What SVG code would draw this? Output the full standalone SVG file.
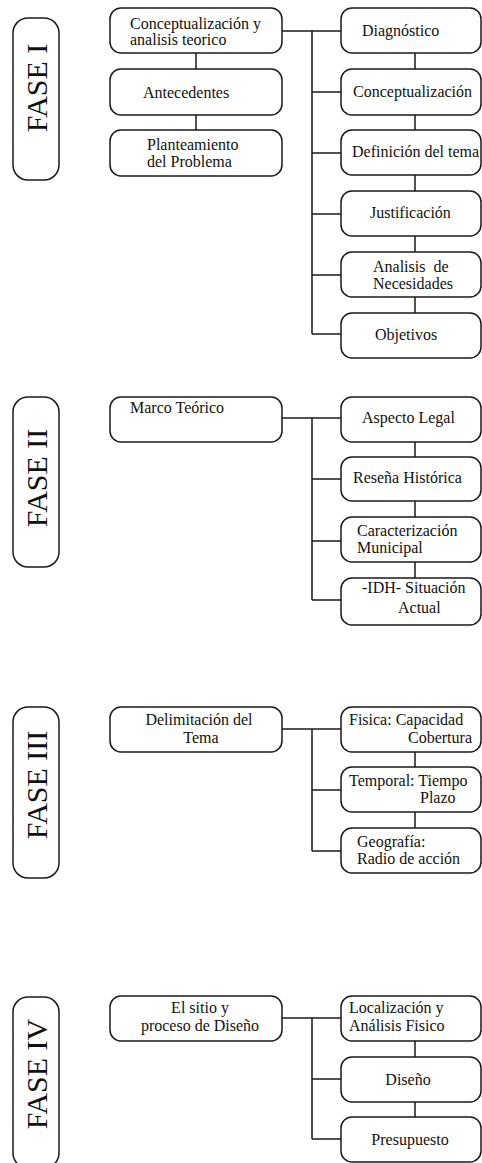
<svg xmlns="http://www.w3.org/2000/svg" width="482" height="1163" viewBox="0 0 482 1163">
<style>
.box{fill:#fff;stroke:#1a1a1a;stroke-width:1.5}
.pill{fill:#fff;stroke:#1a1a1a;stroke-width:1.5}
.ln{fill:none;stroke:#1a1a1a;stroke-width:1.5}
text{font-family:"Liberation Serif","Times New Roman",serif;fill:#111}
.t{font-size:16px}
.ph{font-size:30px;text-anchor:middle}
.c{text-anchor:middle}
</style>
<rect width="482" height="1163" fill="#fff"/>
<g id="connectors">
<path class="ln" d="M196 53V69M196 115V130"/>
<path class="ln" d="M282 31H341M312 31V334M312 92H341M312 153H341M312 214H341M312 275H341M312 334H341"/>
<path class="ln" d="M415 53V69M415 115V130M415 175V191M415 236V252M415 297V313"/>
<path class="ln" d="M282 418H341M312 418V600M312 479H341M312 541H341M312 600H341"/>
<path class="ln" d="M415 442V457M415 501V517M415 562V578"/>
<path class="ln" d="M282 729H341M312 729V851M312 790H341M312 851H341"/>
<path class="ln" d="M415 752V767M415 812V828"/>
<path class="ln" d="M282 1018H341M312 1018V1139M312 1079H341M312 1139H341"/>
<path class="ln" d="M415 1041V1057M415 1102V1117"/>
</g>
<g id="fase1">
<rect class="pill" x="13" y="18" width="46" height="162" rx="15"/>
<text class="ph" transform="translate(47,88) rotate(-90)">FASE I</text>
</g>
<g id="n1"><rect class="box" x="110" y="8" width="172" height="45" rx="11"/><text class="t" x="130" y="29">Conceptualización y</text><text class="t" x="130" y="45">analisis teorico</text></g>
<g id="n2"><rect class="box" x="110" y="69" width="172" height="46" rx="11"/><text class="t" x="143" y="98">Antecedentes</text></g>
<g id="n3"><rect class="box" x="110" y="130" width="172" height="46" rx="11"/><text class="t" x="147" y="150">Planteamiento</text><text class="t" x="147" y="167">del Problema</text></g>
<g id="r1"><rect class="box" x="341" y="8" width="140" height="45" rx="11"/><text class="t" x="362" y="36">Diagnóstico</text></g>
<g id="r2"><rect class="box" x="341" y="69" width="140" height="46" rx="11"/><text class="t" x="353" y="97">Conceptualización</text></g>
<g id="r3"><rect class="box" x="341" y="130" width="140" height="45" rx="11"/><text class="t" x="352" y="157">Definición del tema</text></g>
<g id="r4"><rect class="box" x="341" y="191" width="140" height="45" rx="11"/><text class="t" x="370" y="218">Justificación</text></g>
<g id="r5"><rect class="box" x="341" y="252" width="140" height="45" rx="11"/><text class="t" x="373" y="272" xml:space="preserve">Analisis  de</text><text class="t" x="373" y="289">Necesidades</text></g>
<g id="r6"><rect class="box" x="341" y="313" width="140" height="45" rx="11"/><text class="t" x="375" y="340">Objetivos</text></g>

<g id="fase2">
<rect class="pill" x="13" y="397" width="46" height="170" rx="15"/>
<text class="ph" transform="translate(47,478) rotate(-90)">FASE II</text>
</g>
<g id="m1"><rect class="box" x="110" y="397" width="172" height="45" rx="11"/><text class="t" x="130" y="413">Marco Teórico</text></g>
<g id="m2"><rect class="box" x="341" y="397" width="140" height="45" rx="11"/><text class="t" x="362" y="423">Aspecto Legal</text></g>
<g id="m3"><rect class="box" x="341" y="457" width="140" height="44" rx="11"/><text class="t" x="353" y="483">Reseña Histórica</text></g>
<g id="m4"><rect class="box" x="341" y="517" width="140" height="45" rx="11"/><text class="t" x="357" y="536">Caracterización</text><text class="t" x="357" y="553">Municipal</text></g>
<g id="m5"><rect class="box" x="341" y="578" width="140" height="47" rx="11"/><text class="t" x="362" y="593">-IDH- Situación</text><text class="t" x="398" y="613">Actual</text></g>

<g id="fase3">
<rect class="pill" x="13" y="707" width="46" height="171" rx="15"/>
<text class="ph" transform="translate(47,785) rotate(-90)">FASE III</text>
</g>
<g id="d1"><rect class="box" x="110" y="707" width="172" height="45" rx="11"/><text class="t c" x="199" y="725">Delimitación del</text><text class="t c" x="201" y="743">Tema</text></g>
<g id="d2"><rect class="box" x="341" y="707" width="140" height="45" rx="11"/><text class="t" x="349" y="725">Fisica: Capacidad</text><text class="t" x="408" y="743">Cobertura</text></g>
<g id="d3"><rect class="box" x="341" y="767" width="140" height="45" rx="11"/><text class="t" x="349" y="786">Temporal: Tiempo</text><text class="t" x="420" y="803">Plazo</text></g>
<g id="d4"><rect class="box" x="341" y="828" width="140" height="45" rx="11"/><text class="t" x="357" y="847">Geografía:</text><text class="t" x="357" y="864">Radio de acción</text></g>

<g id="fase4">
<rect class="pill" x="13" y="997" width="46" height="171" rx="15"/>
<text class="ph" transform="translate(47,1074) rotate(-90)">FASE IV</text>
</g>
<g id="s1"><rect class="box" x="110" y="996" width="172" height="45" rx="11"/><text class="t c" x="200" y="1013">El sitio y</text><text class="t c" x="200" y="1031">proceso de Diseño</text></g>
<g id="s2"><rect class="box" x="341" y="996" width="140" height="45" rx="11"/><text class="t" x="349" y="1013">Localización y</text><text class="t" x="349" y="1031">Análisis Fisico</text></g>
<g id="s3"><rect class="box" x="341" y="1057" width="140" height="45" rx="11"/><text class="t c" x="408" y="1085">Diseño</text></g>
<g id="s4"><rect class="box" x="341" y="1117" width="140" height="45" rx="11"/><text class="t c" x="410" y="1145">Presupuesto</text></g>
</svg>
